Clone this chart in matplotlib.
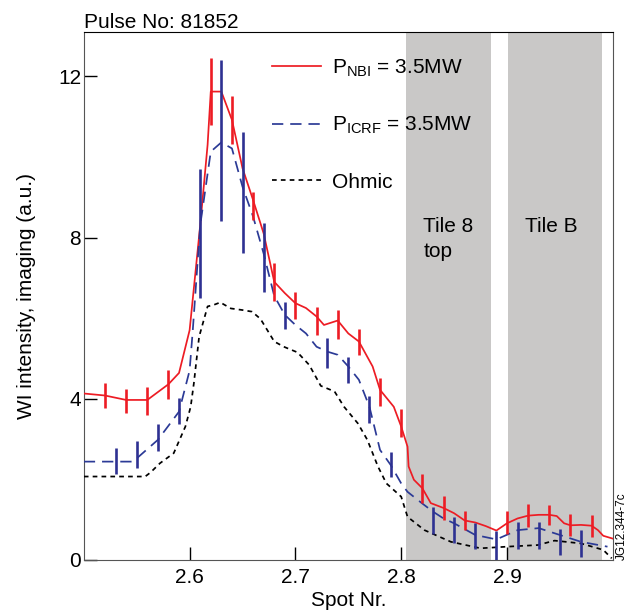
import matplotlib
matplotlib.use('Agg')
import matplotlib.pyplot as plt

plt.rcParams['font.family'] = ['Liberation Sans', 'DejaVu Sans']
plt.rcParams['mathtext.fontset'] = 'custom'
plt.rcParams['mathtext.rm'] = 'Liberation Sans'

# NBI heated (red, solid)
nbi_x = [2.50, 2.52, 2.54, 2.56, 2.58, 2.59, 2.60, 2.61, 2.617, 2.62, 2.63, 2.64,
         2.65, 2.66, 2.67, 2.68, 2.69, 2.70, 2.71, 2.72, 2.727, 2.74, 2.75, 2.76,
         2.773, 2.78, 2.793, 2.80, 2.806, 2.807, 2.812, 2.82, 2.828, 2.84, 2.85,
         2.86, 2.87, 2.88, 2.89, 2.90, 2.91, 2.92, 2.93, 2.94, 2.947, 2.954, 2.96,
         2.97, 2.98, 2.986, 2.991, 3.00]
nbi_y = [4.13, 4.08, 3.97, 3.97, 4.36, 4.64, 5.7, 8.3, 10.3, 11.62, 11.62, 10.92,
         9.72, 8.93, 8.1, 6.9, 6.62, 6.37, 6.25, 6.04, 5.83, 5.94, 5.62, 5.42,
         4.8, 4.22, 3.8, 3.31, 2.81, 2.32, 1.99, 1.78, 1.41, 1.29, 1.16,
         0.98, 0.93, 0.84, 0.73, 0.91, 1.03, 1.10, 1.12, 1.12, 1.09, 0.91, 0.86,
         0.87, 0.85, 0.74, 0.60, 0.53]
nbi_err_x = [2.52, 2.54, 2.56, 2.58, 2.62, 2.64, 2.66, 2.68, 2.70, 2.72, 2.74, 2.76,
             2.78, 2.80, 2.82, 2.84, 2.86, 2.90, 2.92, 2.94, 2.96, 2.98]
nbi_err_y = [4.08, 3.94, 3.94, 4.35, 11.62, 10.92, 8.79, 6.9, 6.31, 5.93, 5.84, 5.41,
             4.16, 3.39, 1.78, 1.29, 0.98, 0.93, 1.10, 1.12, 0.86, 0.85]
nbi_err = [0.32, 0.30, 0.34, 0.36, 0.83, 0.60, 0.35, 0.47, 0.34, 0.35, 0.35, 0.32,
           0.35, 0.35, 0.36, 0.29, 0.24, 0.29, 0.29, 0.25, 0.27, 0.27]

# ICRF heated (blue, dashed)
icrf_x = [2.50, 2.546, 2.55, 2.57, 2.59, 2.60, 2.603, 2.61, 2.62, 2.63, 2.64, 2.65,
          2.66, 2.67, 2.68, 2.69, 2.70, 2.71, 2.72, 2.73, 2.74, 2.75, 2.76, 2.77,
          2.78, 2.79, 2.80, 2.806, 2.82, 2.83, 2.84, 2.85, 2.87, 2.89, 2.91, 2.93,
          2.95, 2.97, 2.995]
icrf_y = [2.44, 2.44, 2.52, 2.98, 3.68, 4.7, 5.7, 8.3, 10.13, 10.36, 10.21, 9.26,
          8.52, 7.6, 6.55, 6.08, 5.83, 5.62, 5.29, 5.17, 5.09, 4.8, 4.47, 3.8,
          2.73, 2.36, 1.9, 1.69, 1.4, 1.2, 1.03, 0.91, 0.62, 0.51, 0.74, 0.79,
          0.62, 0.45, 0.33]
icrf_err_x = [2.53, 2.55, 2.57, 2.59, 2.61, 2.63, 2.65, 2.67, 2.69, 2.73, 2.75, 2.77,
              2.79, 2.83, 2.85, 2.87, 2.89, 2.91, 2.93, 2.95, 2.97]
icrf_err_y = [2.45, 2.61, 3.04, 3.69, 8.1, 10.4, 9.12, 7.5, 6.07, 5.13, 4.71, 3.74,
              2.37, 0.98, 0.74, 0.59, 0.32, 0.6, 0.6, 0.45, 0.41]
icrf_err = [0.32, 0.33, 0.33, 0.32, 1.6, 2.0, 1.5, 0.85, 0.34, 0.37, 0.33, 0.33,
            0.32, 0.33, 0.33, 0.32, 0.40, 0.33, 0.33, 0.33, 0.33]

# Ohmic (black, dotted)
ohm_x = [2.50, 2.558, 2.563, 2.572, 2.585, 2.596, 2.601, 2.604, 2.609, 2.617, 2.623,
         2.629, 2.639, 2.65, 2.659, 2.667, 2.68, 2.689, 2.702, 2.713, 2.724, 2.737,
         2.746, 2.759, 2.768, 2.778, 2.786, 2.80, 2.806, 2.822, 2.847, 2.875, 2.90,
         2.929, 2.945, 2.97, 2.991, 2.999]
ohm_y = [2.07, 2.07, 2.17, 2.4, 2.65, 3.31, 3.8, 4.38, 5.54, 6.29, 6.33,
         6.39, 6.24, 6.2, 6.16, 5.98, 5.42, 5.29, 5.15, 4.84, 4.32, 4.18,
         3.8, 3.39, 2.98, 2.32, 1.9, 1.57, 1.07, 0.74, 0.45, 0.29, 0.33,
         0.37, 0.48, 0.41, 0.25, 0.04]

tiles = [(2.805, 2.885, 'Tile 8\ntop'), (2.901, 2.990, 'Tile B')]

red = '#ed1c24'
blue = '#2e3192'

fig = plt.figure(figsize=(6.35, 6.14), dpi=100)
ax = fig.add_axes([0.132, 0.088, 0.833, 0.860])

for x0, x1, name in tiles:
    ax.axvspan(x0, x1, color='#c9c8c7', lw=0, zorder=0)
    ax.text(x0 + 0.016, 8.5, name, fontsize=15, ha='left', va='top',
            linespacing=1.35, zorder=1)

ax.plot(nbi_x, nbi_y, color=red, lw=1.25, zorder=3,
        label=r'$\mathregular{P_{NBI}}$ = 3.5MW')
ax.plot(icrf_x, icrf_y, color='#2b3a96', lw=1.25, dashes=(6.5, 4), zorder=3,
        label=r'$\mathregular{P_{ICRF}}$ = 3.5MW')
ax.plot(ohm_x, ohm_y, color='black', lw=1.25, dashes=(2.7, 2.4), zorder=3,
        label='Ohmic')
ax.errorbar(nbi_err_x, nbi_err_y, yerr=nbi_err, fmt='none', ecolor=red,
            elinewidth=1.9, capsize=0, zorder=4)
ax.errorbar(icrf_err_x, icrf_err_y, yerr=icrf_err, fmt='none', ecolor=blue,
            elinewidth=1.9, capsize=0, zorder=4)

ax.set_xlim(2.5, 3.0)
ax.set_ylim(0, 13.1)
ax.set_xticks([2.6, 2.7, 2.8, 2.9])
ax.set_yticks([0, 4, 8, 12])
ax.set_xticklabels(['2.6', '2.7', '2.8', '2.9'])
ax.tick_params(direction='in', length=9.5, width=1, labelsize=15)
ax.tick_params(axis='x', pad=6)
ax.tick_params(axis='y', pad=2)

for side in ['left', 'right', 'bottom']:
    ax.spines[side].set_color('#555555')
ax.spines['top'].set_color('black')

ax.set_xlabel('Spot Nr.', fontsize=15, labelpad=3)
ax.set_ylabel('WI intensity, imaging (a.u.)', fontsize=15, labelpad=16)
ax.set_title('Pulse No: 81852', loc='left', fontsize=15, pad=3)

leg = ax.legend(loc='upper left', bbox_to_anchor=(0.355, 0.952), frameon=False,
                fontsize=15, handlelength=2.35, handletextpad=0.55,
                labelspacing=1.75, borderpad=0, borderaxespad=0)
leg.set_zorder(5)

fig.text(0.979, 0.088, 'JG12.344-7c', rotation=90, fontsize=8.5,
         ha='center', va='bottom')

fig.savefig('out.png', dpi=100)
